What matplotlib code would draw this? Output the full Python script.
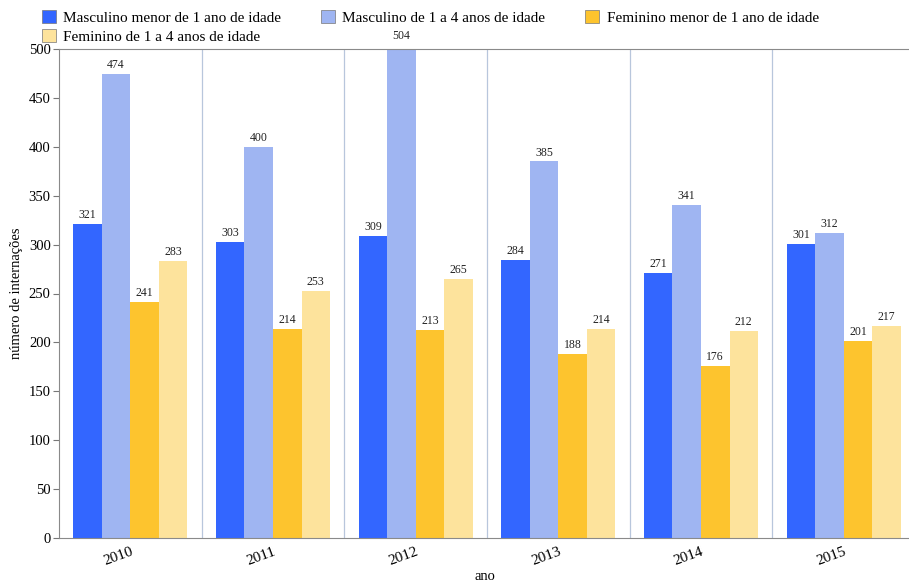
import numpy as np
import matplotlib.pyplot as plt
from matplotlib.patches import Patch

plt.rcParams['font.family'] = ['Liberation Serif', 'DejaVu Serif']

anos = ['2010', '2011', '2012', '2013', '2014', '2015']
series = ['Masculino menor de 1 ano de idade',
          'Masculino de 1 a 4 anos de idade',
          'Feminino menor de 1 ano de idade',
          'Feminino de 1 a 4 anos de idade']
masc_menor1 = [321, 303, 309, 284, 271, 301]
masc_1a4 = [474, 400, 504, 385, 341, 312]
fem_menor1 = [241, 214, 213, 188, 176, 201]
fem_1a4 = [283, 253, 265, 214, 212, 217]
cores = ['#3366ff', '#9fb5f2', '#fdc42e', '#fde39c']

valores = [masc_menor1, masc_1a4, fem_menor1, fem_1a4]

fig = plt.figure(figsize=(9.09, 5.85), dpi=100)
ax = fig.add_axes([59/909, 1 - 538/585, 1 - 59/909, (538 - 49)/585])

x = np.arange(len(anos))
w = 0.2
for i, (vals, cor) in enumerate(zip(valores, cores)):
    pos = x + (i - 1.5) * w
    ax.bar(pos, vals, width=w, color=cor, edgecolor='none', zorder=2)
    for p, v in zip(pos, vals):
        ax.text(p, v + 3, str(v), ha='center', va='bottom', fontsize=8.5,
                color='#222222', zorder=3)

# separators between years
for s in np.arange(0.5, len(anos) - 0.5, 1):
    ax.axvline(s, color='#b8c6dc', lw=0.9, zorder=1)

ax.set_xlim(-0.5, 5.5 - 6/142.7)
ax.set_ylim(0, 500)
ax.set_yticks(range(0, 501, 50))
ax.set_xticks(x)
ax.set_xticklabels(anos, rotation=20, ha='right', rotation_mode='anchor',
                   fontsize=11)
ax.tick_params(axis='x', length=0, pad=5)
ax.tick_params(axis='y', direction='out', length=4, labelsize=10.5,
               color='#777777', pad=2)
for lado in ['left', 'bottom', 'top']:
    ax.spines[lado].set_color('#8a8a8a')
ax.spines['right'].set_visible(False)

ax.set_ylabel('número de internações', fontsize=10.5, labelpad=4)
fig.text(475/909, 1 - 576/585, 'ano', fontsize=10.5, ha='left', va='center')

handles = [Patch(facecolor=c, edgecolor='#777777', lw=0.5) for c in cores]
ordem = [0, 3, 1, 2]
fig.legend([handles[i] for i in ordem], [series[i] for i in ordem],
           ncol=3, loc='upper left', bbox_to_anchor=(42/909, 1 - 10/585),
           frameon=False, fontsize=11, handlelength=0.9, handleheight=0.9,
           handletextpad=0.5, columnspacing=2.6, labelspacing=0.3,
           borderaxespad=0, borderpad=0)

fig.savefig('out.png', dpi=100)
